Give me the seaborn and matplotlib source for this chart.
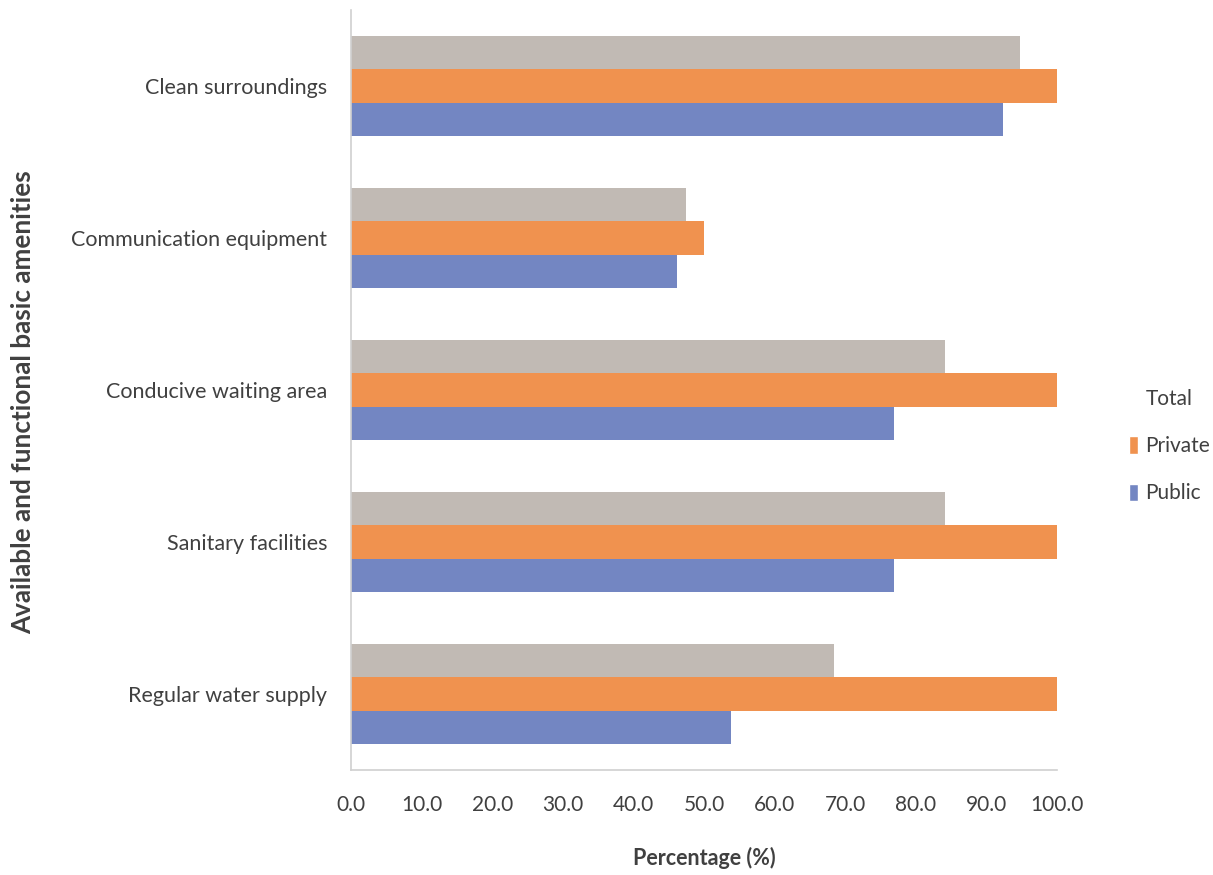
import matplotlib
matplotlib.use("Agg")
import matplotlib.pyplot as plt
import matplotlib.patches as mpatches
import seaborn as sns
import pandas as pd

amenities = [
    "Clean surroundings",
    "Communication equipment",
    "Conducive waiting area",
    "Sanitary facilities",
    "Regular water supply",
]
total = [94.7, 47.4, 84.2, 84.2, 68.4]
private = [100.0, 50.0, 100.0, 100.0, 100.0]
public = [92.3, 46.2, 76.9, 76.9, 53.8]
groups = ["Total", "Private", "Public"]
x_ticks = [0, 10, 20, 30, 40, 50, 60, 70, 80, 90, 100]

colors = {"Total": "#C1BAB4", "Private": "#F0924F", "Public": "#7386C2"}

rows = []
for name, vals in zip(groups, [total, private, public]):
    for a, v in zip(amenities, vals):
        rows.append({"Amenity": a, "Group": name, "Percentage": v})
df = pd.DataFrame(rows)

sns.set_theme(style="white")
plt.rcParams["font.family"] = ["Lato", "DejaVu Sans"]

fig = plt.figure(figsize=(12.13, 8.75), dpi=100)
ax = fig.add_axes([0.2894, 0.12, 0.582, 0.8686])

sns.barplot(
    data=df, y="Amenity", x="Percentage", hue="Group",
    order=amenities, hue_order=groups, palette=colors,
    orient="h", width=0.66, saturation=1, ax=ax, legend=False,
    linewidth=0, edgecolor="none",
)

ax.set_xlim(0, 100)
ax.set_ylim(4.5, -0.5)
ax.set_xticks(x_ticks)
ax.set_xticklabels([f"{t:.1f}" for t in x_ticks], fontsize=15, color="#404040")
ax.tick_params(axis="y", labelsize=15.5, labelcolor="#404040", pad=17)
ax.tick_params(axis="x", pad=18)
ax.tick_params(length=0)

for s in ["top", "right"]:
    ax.spines[s].set_visible(False)
for s in ["left", "bottom"]:
    ax.spines[s].set_color("#D0D0D0")
    ax.spines[s].set_linewidth(1.2)

ax.set_xlabel("Percentage (%)", fontsize=15.5, fontweight="bold", color="#404040", labelpad=23)
ax.set_ylabel("Available and functional basic amenities", fontsize=18.8, fontweight="bold",
              color="#404040")
ax.yaxis.set_label_coords(-0.447, 0.484)

handles = [
    mpatches.Patch(facecolor="none", edgecolor="none", label="Total"),
    mpatches.Patch(facecolor=colors["Private"], label="Private"),
    mpatches.Patch(facecolor=colors["Public"], label="Public"),
]
fig.legend(handles=handles, loc="center left", bbox_to_anchor=(0.915, 0.49),
           frameon=False, fontsize=15, handlelength=0.45, handleheight=0.9,
           handletextpad=0.35, labelspacing=1.3, labelcolor="#404040")

fig.savefig("out.png", dpi=100, facecolor="white")
